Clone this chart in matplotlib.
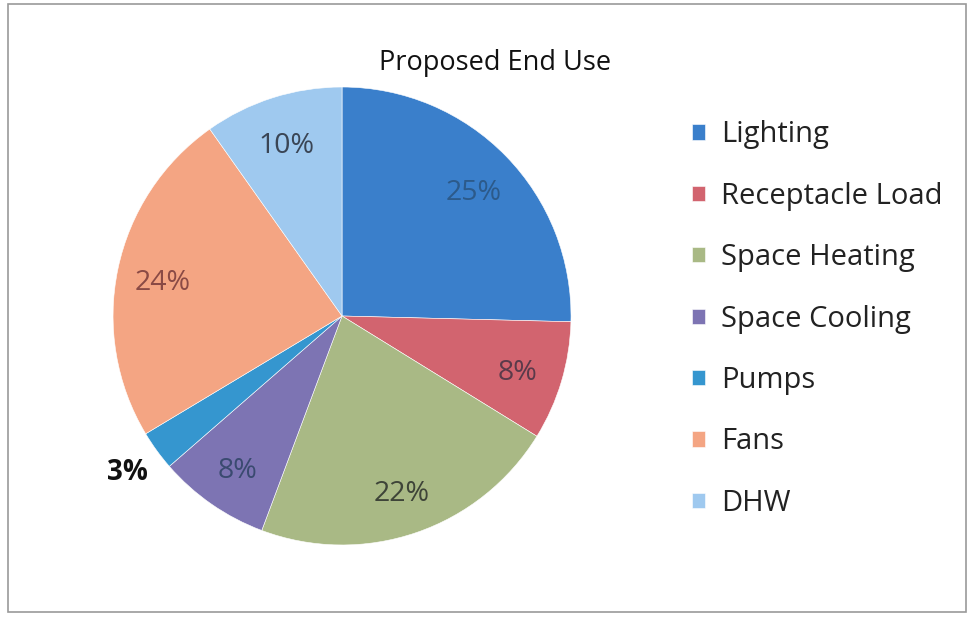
#!/usr/bin/env python3

# imports
import matplotlib
matplotlib.use('Agg')
import matplotlib.pyplot as plt
from matplotlib.patches import Rectangle

# data (shares; labels show them rounded)
categories = ['Lighting', 'Receptacle Load', 'Space Heating', 'Space Cooling', 'Pumps', 'Fans', 'DHW']
shares = [25.4, 8.4, 21.9, 7.9, 2.8, 23.8, 9.8]
colors = ['#3a7fcb', '#d2646f', '#a9b985', '#7d74b3', '#3596cf', '#f4a583', '#9fc9ef']
label_colors = ['#2c5a8a', '#5a3a4a', '#3e4438', '#3a4a70', '#111111', '#8a4a45', '#3a4555']

plt.rcParams['font.family'] = ['Open Sans', 'DejaVu Sans']

fig = plt.figure(figsize=(9.67, 6.21), dpi=100)
fig.patch.set_facecolor('white')

# frame around the chart area
fig.patches.append(Rectangle((8 / 967, 9 / 621), 958 / 967, 608 / 621, transform=fig.transFigure,
                             fill=False, edgecolor='#9a9a9a', linewidth=1.2))

# pie axes, centred where the reference pie sits
ax = fig.add_axes([0.1169, 0.1224, 0.4736, 0.7375])
wedges, texts, autotexts = ax.pie(shares, colors=colors, startangle=90, counterclock=False,
                                  autopct='%.0f%%', pctdistance=0.8, radius=1.0,
                                  wedgeprops=dict(linewidth=0.4, edgecolor='white'),
                                  textprops=dict(fontsize=20.5))
ax.set_xlim(-1, 1)
ax.set_ylim(-1, 1)
ax.set_aspect('equal')

# colour the percent labels, put the small one outside
for i, t in enumerate(autotexts):
    t.set_color(label_colors[i])
    t.set_clip_on(False)
    x, y = t.get_position()
    if shares[i] < 5:
        t.set_position((x / 0.8 * 1.16, y / 0.8 * 1.16))
        t.set_fontweight('bold')
        t.set_fontsize(20)
    else:
        t.set_position((x, y - 0.02))

# title
fig.text(0.512, 0.898, 'Proposed End Use', ha='center', va='center', fontsize=19.5, color='#111111')

# legend
fig.legend(wedges, categories, loc='upper left', bbox_to_anchor=(0.716, 0.806),
           frameon=False, fontsize=21, handlelength=0.43, handleheight=0.43,
           handletextpad=0.55, labelspacing=1.11, borderaxespad=0, borderpad=0,
           labelcolor='#222222')

# save plot
plt.savefig('out.png', dpi=100)
